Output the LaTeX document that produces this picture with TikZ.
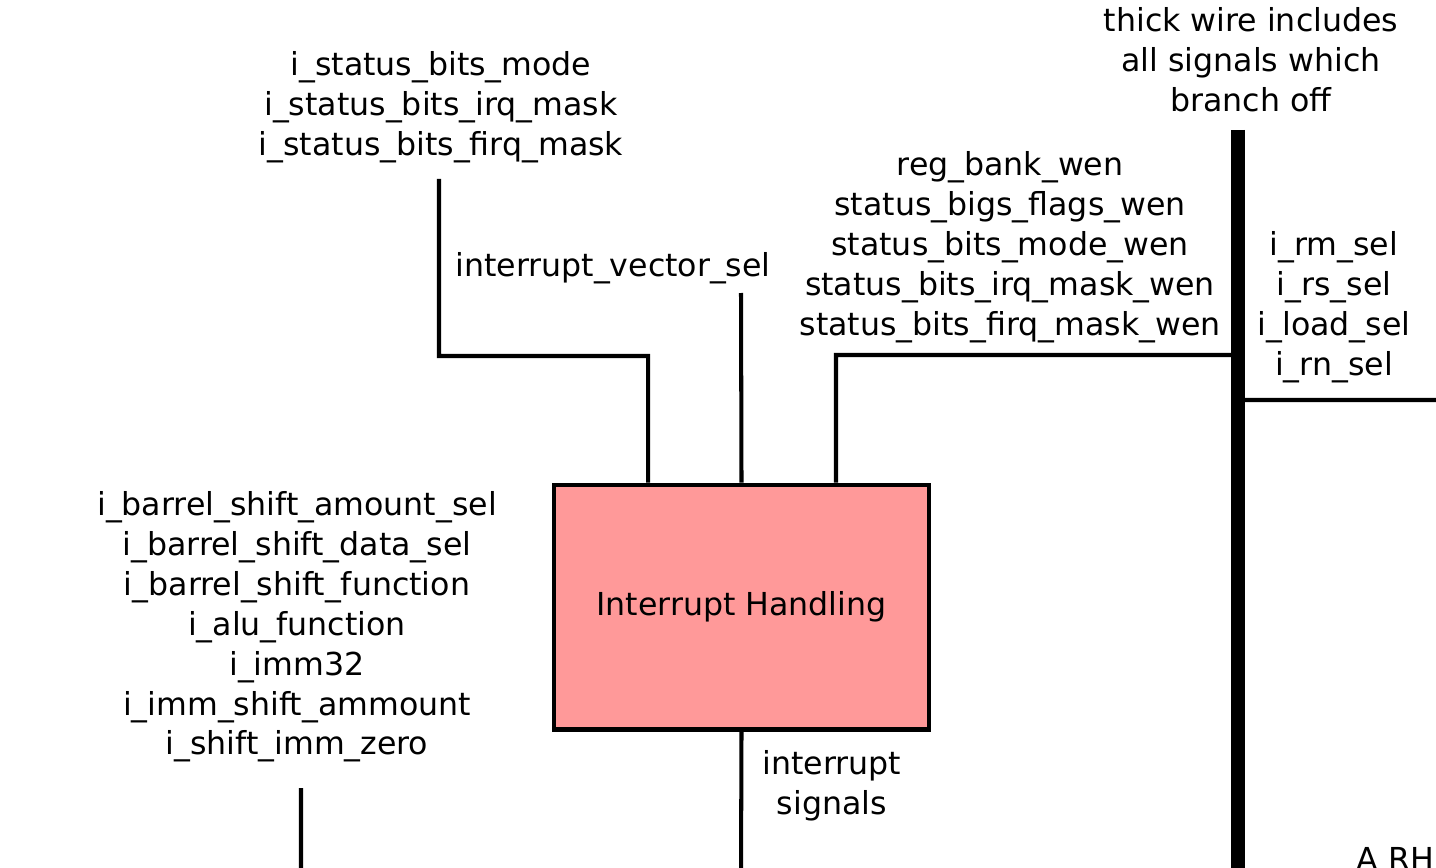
\documentclass[tikz,border=0pt]{standalone}
\usepackage{fontspec}
\setmainfont{DejaVu Sans}
\usetikzlibrary{positioning}

\definecolor{blockpink}{RGB}{255,153,153}
\tikzset{
    block/.style={draw, fill=blockpink, line width=2.3pt, minimum width=7.5cm, minimum height=4.9cm, align=center},
    sig/.style={align=center, inner sep=0pt},
    wire/.style={line width=2.3pt},
    bus/.style={line width=7.9pt}
}

\begin{document}
\begin{tikzpicture}[x=0.02cm, y=-0.02cm, font=\fontsize{18}{22.7}\selectfont]
        \useasboundingbox (0,0) rectangle (1436,868);

        \node[block] (ih) at (741.5,607) {Interrupt Handling};

        % free ends of the wires
        \coordinate (sbin)   at (439,179);
        \coordinate (ivin)   at (741,293);
        \coordinate (bustop) at (1238,130);
        \coordinate (busbot) at (1238,872);
        \coordinate (rmout)  at (1440,400);
        \coordinate (isout)  at (741,872);
        \coordinate (bsin)   at (301,788);

        \node[sig] (sbl)  at (441,107)  {i\_status\_bits\_mode\\i\_status\_bits\_irq\_mask\\i\_status\_bits\_firq\_mask};
        \node[sig] (ivl)  at (613,268)  {interrupt\_vector\_sel};
        \node[sig] (wenl) at (1010,247) {reg\_bank\_wen\\status\_bigs\_flags\_wen\\status\_bits\_mode\_wen\\status\_bits\_irq\_mask\_wen\\status\_bits\_firq\_mask\_wen};
        \node[sig] (busl) at (1251,60)  {thick wire includes\\all signals which\\branch off};
        \node[sig] (rml)  at (1334,307) {i\_rm\_sel\\i\_rs\_sel\\i\_load\_sel\\i\_rn\_sel};
        \node[sig] (isl)  at (832,786)  {interrupt\\signals};
        \node[sig] (bsl)  at (297,627)  {i\_barrel\_shift\_amount\_sel\\i\_barrel\_shift\_data\_sel\\i\_barrel\_shift\_function\\i\_alu\_function\\i\_imm32\\i\_imm\_shift\_ammount\\i\_shift\_imm\_zero};
        \node[sig, anchor=base west] (arl) at (1356,870) {A RH};

        \draw[bus] (bustop) -- (busbot);
        \draw[wire, line join=miter]
            (sbin) |- ([xshift=-1.87cm]ih.north |- 0,356) -- ([xshift=-1.87cm]ih.north)
            (ivin) -- (ih.north)
            ([xshift=1.89cm]ih.north) |- (bustop |- 0,355)
            (rmout) -- (rmout -| bustop)
            (ih.south) -- (isout)
            (bsin) -- (bsin |- isout);
\end{tikzpicture}
\end{document}
